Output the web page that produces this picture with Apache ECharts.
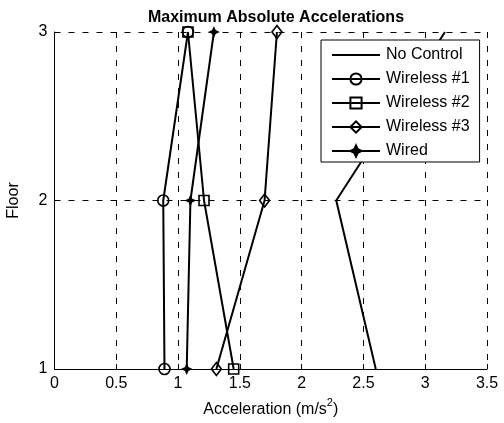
<!DOCTYPE html>
<html><head><meta charset="utf-8">
<script src="https://cdn.jsdelivr.net/npm/echarts@6/dist/echarts.min.js"></script>
<style>html,body{margin:0;padding:0;background:#fff}#c{width:504px;height:423px}</style>
</head><body><div id="c"></div>
<script>
const floors = [1, 2, 3];
const xTicks = [0, 0.5, 1, 1.5, 2, 2.5, 3, 3.5];
const noControl = [2.60, 2.28, 3.16];
const wireless1 = [0.89, 0.88, 1.08];
const wireless2 = [1.45, 1.21, 1.08];
const wireless3 = [1.31, 1.70, 1.80];
const wired = [1.07, 1.10, 1.29];

const pts = arr => arr.map((v, i) => [v, floors[i]]);
const font = 'Liberation Sans, Arial, sans-serif';
function mk(name, data, symbol, size, filled, hidden) {
  return {
    name, type: 'line', data: pts(data), symbol, symbolSize: size,
    showSymbol: !hidden,
    lineStyle: { color: '#000', width: 2 },
    itemStyle: hidden
      ? { color: 'rgba(0,0,0,0)', borderColor: 'rgba(0,0,0,0)', borderWidth: 0 }
      : { color: filled ? '#000' : 'rgba(0,0,0,0)', borderColor: '#000', borderWidth: 1.6 },
    emphasis: { disabled: true }, animation: false, z: 3
  };
}
const chart = echarts.init(document.getElementById('c'));
chart.setOption({
  backgroundColor: '#fff',
  animation: false,
  title: {
    text: 'Maximum Absolute Accelerations', left: 271, top: 5, textAlign: 'center',
    textStyle: { fontFamily: font, fontSize: 16, fontWeight: 'bold', color: '#000' }
  },
  grid: { left: 54.5, right: 17, top: 32, bottom: 54, containLabel: false, outerBoundsMode: 'none' },
  xAxis: {
    type: 'value', min: 0, max: 3.5, interval: 0.5,
    name: '{a|Acceleration (m/s}{s|2}{a|)}', nameLocation: 'middle', nameGap: 28,
    nameTextStyle: { rich: { a: { fontFamily: font, fontSize: 16, color: '#000', verticalAlign: 'bottom' }, s: { fontFamily: font, fontSize: 11, color: '#000', verticalAlign: 'top', padding: [0,0,10,0] } } },
    axisLine: { lineStyle: { color: '#000', width: 1 } },
    axisTick: { inside: true, length: 5, lineStyle: { color: '#000' } },
    axisLabel: { fontFamily: font, fontSize: 16, color: '#000', margin: 7, formatter: v => String(v) },
    splitLine: { show: true, lineStyle: { color: '#000', type: [6, 8], width: 1 } }
  },
  yAxis: {
    type: 'value', min: 1, max: 3, interval: 1,
    name: 'Floor', nameLocation: 'middle', nameGap: 33,
    nameTextStyle: { fontFamily: font, fontSize: 16, color: '#000' },
    axisLine: { show: true, lineStyle: { color: '#000', width: 1 } },
    axisTick: { show: true, inside: true, length: 5, lineStyle: { color: '#000' } },
    axisLabel: { fontFamily: font, fontSize: 16, color: '#000', margin: 7 },
    splitLine: { show: true, lineStyle: { color: '#000', type: [6, 8], width: 1 } }
  },
  legend: {
    orient: 'vertical', left: 321, top: 40, width: 160,
    backgroundColor: '#fff', borderColor: '#000', borderWidth: 1,
    padding: [7, 10, 3, 10], itemWidth: 48, itemHeight: 14, itemGap: 8,
    textStyle: { fontFamily: font, fontSize: 16, color: '#000', padding: [0, 0, 0, 1] },
    selectedMode: false, z: 10,
    data: ['No Control', 'Wireless #1', 'Wireless #2', 'Wireless #3', 'Wired']
  },
  series: [
    mk('No Control', noControl, 'circle', 0, false, true),
    mk('Wireless #1', wireless1, 'circle', 11, false),
    mk('Wireless #2', wireless2, 'rect', 10, false),
    mk('Wireless #3', wireless3, 'diamond', [10, 13], false),
    mk('Wired', wired, 'path://M0,-5 L1.6,-1.6 L5,0 L1.6,1.6 L0,5 L-1.6,1.6 L-5,0 L-1.6,-1.6 Z', 8, true)
  ]
});
</script></body></html>
